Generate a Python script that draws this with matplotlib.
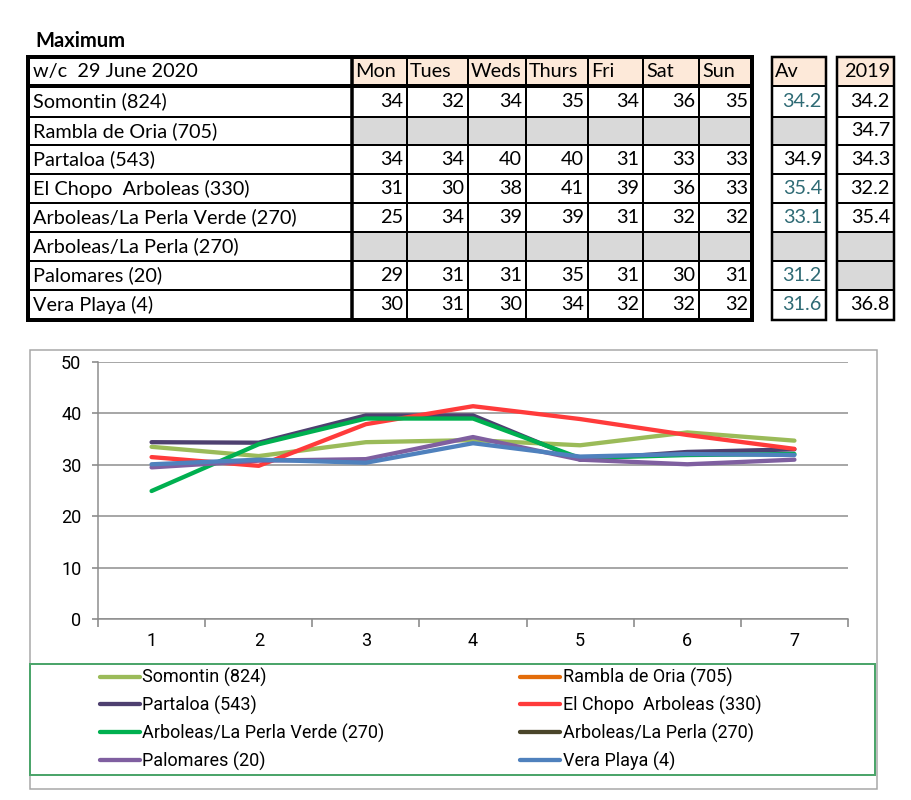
import matplotlib.pyplot as plt
from matplotlib.patches import Rectangle

# table contents
title = 'Maximum'
week = 'w/c  29 June 2020'
stations = ['Somontin (824)', 'Rambla de Oria (705)', 'Partaloa (543)',
            'El Chopo  Arboleas (330)', 'Arboleas/La Perla Verde (270)',
            'Arboleas/La Perla (270)', 'Palomares (20)', 'Vera Playa (4)']
days = ['Mon', 'Tues', 'Weds', 'Thurs', 'Fri', 'Sat', 'Sun']
daily = [[34, 32, 34, 35, 34, 36, 35],
         None,
         [34, 34, 40, 40, 31, 33, 33],
         [31, 30, 38, 41, 39, 36, 33],
         [25, 34, 39, 39, 31, 32, 32],
         None,
         [29, 31, 31, 35, 31, 30, 31],
         [30, 31, 30, 34, 32, 32, 32]]
averages = [34.2, None, 34.9, 35.4, 33.1, None, 31.2, 31.6]
last_year = [34.2, 34.7, 34.3, 32.2, 35.4, None, None, 36.8]

# chart series
chart_days = [1, 2, 3, 4, 5, 6, 7]
somontin = [33.5, 31.7, 34.4, 34.8, 33.8, 36.3, 34.7]
rambla = []
partaloa = [34.4, 34.3, 39.6, 39.6, 31.0, 32.5, 33.0]
el_chopo = [31.5, 29.8, 37.9, 41.4, 38.9, 35.8, 33.1]
perla_verde = [24.9, 34.0, 39.0, 39.0, 31.3, 31.9, 32.1]
perla = []
palomares = [29.5, 30.8, 31.1, 35.4, 31.0, 30.1, 31.0]
vera = [30.1, 31.0, 30.4, 34.2, 31.6, 32.1, 31.9]
series = [somontin, rambla, partaloa, el_chopo, perla_verde, perla, palomares, vera]
colors = ['#9BBB59', '#E36C0A', '#4E4070', '#FF3B3B',
          '#00B050', '#4A452A', '#7F5FA0', '#4F81BD']

W, H = 912, 800
PX = 0.72  # points per pixel at dpi 100
tfont = ['Lato', 'DejaVu Sans']
cfont = ['Liberation Sans Narrow', 'Roboto', 'DejaVu Sans']

fig = plt.figure(figsize=(W / 100, H / 100), dpi=100)
tab = fig.add_axes([0, 0, 1, 1])
tab.set_xlim(0, W)
tab.set_ylim(H, 0)
tab.axis('off')

tab.text(35, 41, title, fontsize=14.5, fontweight='bold', family=tfont,
         ha='left', va='center')

col_edges = [28, 352, 407, 468, 526, 588, 643, 699, 752]
row_edges = [57, 86, 117, 145, 174, 203, 232, 261, 290, 320]
av_edges = [772, 826]
yr_edges = [837, 894]
peach = '#FDE9D9'
grey = '#D9D9D9'
teal = '#2F6B75'
fs = 14.3


def cell(x0, x1, y0, y1, fill):
    tab.add_patch(Rectangle((x0, y0), x1 - x0, y1 - y0, facecolor=fill,
                            edgecolor='none', zorder=1))


def grid_lines(xs, ys, lw_in, lw_out):
    for y in ys[1:-1]:
        tab.plot([xs[0], xs[-1]], [y, y], color='black', lw=lw_in * PX, zorder=3)
    for x in xs[1:-1]:
        tab.plot([x, x], [ys[0], ys[-1]], color='black', lw=lw_in * PX, zorder=3)
    tab.add_patch(Rectangle((xs[0], ys[0]), xs[-1] - xs[0], ys[-1] - ys[0],
                            facecolor='none', edgecolor='black',
                            lw=lw_out * PX, zorder=4))


# header
tab.text(col_edges[0] + 5, (row_edges[0] + row_edges[1]) / 2, week,
         fontsize=fs, family=tfont, ha='left', va='center', zorder=5)
for j, d in enumerate(days):
    cell(col_edges[j + 1], col_edges[j + 2], row_edges[0], row_edges[1], peach)
    tab.text(col_edges[j + 1] + 3, (row_edges[0] + row_edges[1]) / 2, d,
             fontsize=fs, family=tfont, ha='left', va='center', zorder=5)
cell(av_edges[0], av_edges[1], row_edges[0], row_edges[1], peach)
tab.text(av_edges[0] + 3, (row_edges[0] + row_edges[1]) / 2, 'Av',
         fontsize=fs, family=tfont, ha='left', va='center', zorder=5)
cell(yr_edges[0], yr_edges[1], row_edges[0], row_edges[1], peach)
tab.text(yr_edges[1] - 4, (row_edges[0] + row_edges[1]) / 2, '2019',
         fontsize=fs, family=tfont, ha='right', va='center', zorder=5)

# body
for i, name in enumerate(stations):
    y0, y1 = row_edges[i + 1], row_edges[i + 2]
    yc = (y0 + y1) / 2
    tab.text(col_edges[0] + 5, yc, name, fontsize=fs, family=tfont,
             ha='left', va='center', zorder=5)
    if daily[i] is None:
        cell(col_edges[1], col_edges[-1], y0, y1, grey)
    else:
        for j, v in enumerate(daily[i]):
            tab.text(col_edges[j + 2] - 4, yc, str(v), fontsize=fs, family=tfont,
                     ha='right', va='center', zorder=5)
    if averages[i] is None:
        cell(av_edges[0], av_edges[1], y0, y1, grey)
    else:
        tab.text(av_edges[1] - 4, yc, f'{averages[i]:.1f}', fontsize=fs,
                 family=tfont, ha='right', va='center', zorder=5,
                 color='black' if i == 2 else teal)
    if last_year[i] is None:
        cell(yr_edges[0], yr_edges[1], y0, y1, grey)
    else:
        tab.text(yr_edges[1] - 4, yc, f'{last_year[i]:.1f}', fontsize=fs,
                 family=tfont, ha='right', va='center', zorder=5)

grid_lines(col_edges, row_edges, 2, 4)
tab.plot([col_edges[0], col_edges[-1]], [row_edges[1]] * 2, color='black',
         lw=4 * PX, zorder=4)
tab.plot([col_edges[1]] * 2, [row_edges[0], row_edges[-1]], color='black',
         lw=3.5 * PX, zorder=4)
grid_lines(av_edges, row_edges, 2, 2.5)
grid_lines(yr_edges, row_edges, 2, 2.5)

# chart frame and legend frame
tab.add_patch(Rectangle((30, 350), 847, 439, facecolor='white',
                        edgecolor='#A6A6A6', lw=1.5 * PX, zorder=1))
tab.add_patch(Rectangle((30, 664), 845, 111, facecolor='none',
                        edgecolor='#4CA56B', lw=2 * PX, zorder=2))

# line chart
ax = fig.add_axes([98 / W, 181 / H, 750 / W, 257 / H])
ax.set_facecolor('none')
handles = []
for name, vals, c in zip(stations, series, colors):
    xs = chart_days[:len(vals)]
    h, = ax.plot(xs, vals, color=c, lw=4.3 * PX, solid_capstyle='round',
                 solid_joinstyle='round', label=name)
    handles.append(h)

ax.set_xlim(0.5, 7.5)
ax.set_ylim(0, 50)
ax.set_yticks(range(0, 51, 10))
ax.set_xticks(chart_days)
ax.set_xticks([x + 0.5 for x in range(0, 8)], minor=True)
ax.grid(axis='y', color='#8C8C8C', lw=1.5 * PX)
ax.set_axisbelow(True)
for s in ['top', 'right']:
    ax.spines[s].set_visible(False)
for s in ['left', 'bottom']:
    ax.spines[s].set_color('#8C8C8C')
    ax.spines[s].set_linewidth(1.5 * PX)
ax.tick_params(axis='x', which='major', length=0, pad=9)
ax.tick_params(axis='x', which='minor', length=6, color='#8C8C8C', width=1.2)
ax.tick_params(axis='y', length=4, color='#8C8C8C', width=1.2, pad=8)
for lab in ax.get_xticklabels() + ax.get_yticklabels():
    lab.set_family(cfont)
    lab.set_fontsize(13)

order = [0, 2, 4, 6, 1, 3, 5, 7]
fig.legend([handles[k] for k in order], [stations[k] for k in order],
           loc='upper left', bbox_to_anchor=(100 / W, 1 - 668 / H), ncol=2,
           frameon=False, borderpad=0, borderaxespad=0, handlelength=2.2,
           handletextpad=0.15, columnspacing=7.5, labelspacing=0.48,
           prop={'family': cfont, 'size': 13})

fig.savefig('out.png', dpi=100)
